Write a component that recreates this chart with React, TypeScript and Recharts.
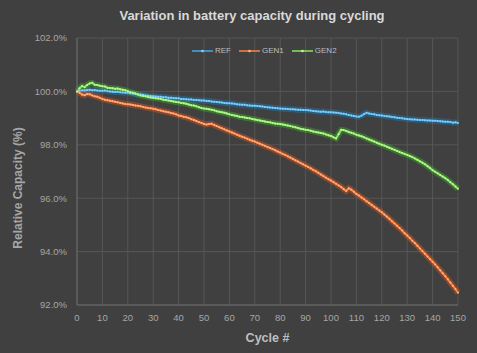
import React from "react";
import { LineChart, Line, XAxis, YAxis, CartesianGrid, Label } from "recharts";

// relative capacity (%) per cycle, 0..150
const REF = [
  100.0, 100.02, 100.04, 100.03, 100.05, 100.06, 100.04, 100.05, 100.03, 100.02,
  100.02, 100.03, 100.01, 100.0, 99.99, 99.98, 99.99, 99.97, 99.96, 99.95,
  99.95, 99.93, 99.92, 99.9, 99.89, 99.88, 99.87, 99.85, 99.84, 99.83,
  99.82, 99.81, 99.8, 99.8, 99.78, 99.78, 99.76, 99.76, 99.75, 99.74,
  99.74, 99.72, 99.72, 99.71, 99.7, 99.7, 99.68, 99.68, 99.67, 99.66,
  99.66, 99.64, 99.64, 99.62, 99.61, 99.6, 99.59, 99.58, 99.57, 99.56,
  99.56, 99.55, 99.54, 99.52, 99.51, 99.5, 99.5, 99.48, 99.47, 99.46,
  99.46, 99.45, 99.44, 99.43, 99.42, 99.41, 99.4, 99.39, 99.38, 99.37,
  99.36, 99.35, 99.35, 99.34, 99.33, 99.33, 99.32, 99.31, 99.31, 99.3,
  99.3, 99.29, 99.28, 99.27, 99.26, 99.25, 99.24, 99.25, 99.23, 99.22,
  99.22, 99.21, 99.2, 99.19, 99.17, 99.16, 99.14, 99.12, 99.1, 99.08,
  99.06, 99.05, 99.09, 99.15, 99.2, 99.17, 99.15, 99.14, 99.12, 99.11,
  99.1, 99.08, 99.07, 99.06, 99.04, 99.03, 99.01, 99.0, 98.99, 98.98,
  98.97, 98.96, 98.95, 98.95, 98.94, 98.93, 98.93, 98.92, 98.91, 98.91,
  98.9, 98.9, 98.89, 98.88, 98.87, 98.86, 98.86, 98.85, 98.83, 98.84,
  98.82,
];

const GEN1 = [
  100.0, 99.95, 99.88, 99.86, 99.9, 99.89, 99.85, 99.82, 99.8, 99.76,
  99.72, 99.69, 99.67, 99.65, 99.63, 99.61, 99.59, 99.57, 99.55, 99.53,
  99.52, 99.51, 99.49, 99.47, 99.46, 99.44, 99.42, 99.4, 99.38, 99.37,
  99.35, 99.33, 99.3, 99.28, 99.26, 99.24, 99.22, 99.19, 99.17, 99.14,
  99.1, 99.08, 99.05, 99.03, 99.0, 98.96, 98.93, 98.89, 98.85, 98.82,
  98.78, 98.76, 98.78, 98.79, 98.74, 98.7, 98.66, 98.62, 98.58, 98.54,
  98.5, 98.46, 98.42, 98.38, 98.34, 98.3, 98.27, 98.23, 98.19, 98.15,
  98.12, 98.08, 98.04, 98.0, 97.96, 97.92, 97.88, 97.84, 97.8, 97.75,
  97.71, 97.66, 97.62, 97.57, 97.52, 97.47, 97.42, 97.37, 97.32, 97.27,
  97.22, 97.17, 97.12, 97.06, 97.01, 96.95, 96.89, 96.83, 96.77, 96.71,
  96.66, 96.6, 96.54, 96.48, 96.42, 96.34, 96.27, 96.37, 96.32, 96.24,
  96.16, 96.1, 96.03, 95.96, 95.89, 95.82, 95.75, 95.68, 95.61, 95.54,
  95.47, 95.39, 95.31, 95.23, 95.14, 95.05, 94.97, 94.88, 94.79, 94.69,
  94.6, 94.51, 94.41, 94.32, 94.22, 94.12, 94.02, 93.92, 93.82, 93.72,
  93.62, 93.52, 93.41, 93.3, 93.19, 93.08, 92.96, 92.84, 92.72, 92.6,
  92.46,
];

const GEN2 = [
  100.0, 100.12, 100.2, 100.16, 100.24, 100.3, 100.32, 100.25, 100.24, 100.21,
  100.19, 100.18, 100.14, 100.13, 100.12, 100.1, 100.11, 100.08, 100.06, 100.04,
  100.01, 99.97, 99.95, 99.92, 99.88, 99.85, 99.83, 99.82, 99.79, 99.77,
  99.76, 99.74, 99.73, 99.72, 99.69, 99.68, 99.66, 99.64, 99.62, 99.6,
  99.59, 99.57, 99.56, 99.54, 99.51, 99.48, 99.47, 99.44, 99.41, 99.38,
  99.36, 99.35, 99.33, 99.31, 99.29, 99.26, 99.24, 99.22, 99.2, 99.17,
  99.14, 99.12, 99.1, 99.08, 99.05, 99.04, 99.02, 99.0, 98.99, 98.97,
  98.95, 98.93, 98.91, 98.89, 98.87, 98.85, 98.84, 98.82, 98.8, 98.79,
  98.78, 98.76, 98.74, 98.72, 98.7, 98.68, 98.66, 98.63, 98.6, 98.58,
  98.56, 98.55, 98.53, 98.5, 98.48, 98.46, 98.44, 98.42, 98.39, 98.36,
  98.33, 98.28, 98.24, 98.4, 98.56, 98.55, 98.52, 98.48, 98.45, 98.42,
  98.38, 98.35, 98.32, 98.28, 98.24, 98.2, 98.16, 98.12, 98.08, 98.04,
  98.0, 97.97, 97.93, 97.89, 97.85, 97.81, 97.77, 97.73, 97.69, 97.66,
  97.62, 97.58, 97.54, 97.49, 97.44, 97.38, 97.33, 97.27, 97.2, 97.13,
  97.05, 96.99, 96.93, 96.87, 96.81, 96.75, 96.68, 96.6, 96.52, 96.44,
  96.35,
];

const xTicks = [0, 10, 20, 30, 40, 50, 60, 70, 80, 90, 100, 110, 120, 130, 140, 150];
const yTicks = [92, 94, 96, 98, 100, 102];

const series = [
  { key: "REF", color: "#45aae6", dot: "#8ccff3", glow: "#1f7fc0" },
  { key: "GEN1", color: "#ff8242", dot: "#ffb084", glow: "#e0581a" },
  { key: "GEN2", color: "#8ae45e", dot: "#c0f5a4", glow: "#3fb820" },
];

const data = REF.map((v, i) => ({ cycle: i, REF: v, GEN1: GEN1[i], GEN2: GEN2[i] }));

const font = "'Liberation Sans', Arial, sans-serif";
const tickStyle = { fill: "#a6a6a6", fontSize: 9.5, fontFamily: font };

const YTitle = () => (
  <text
    x={18}
    y={188}
    transform="rotate(-90 18 188)"
    textAnchor="middle"
    dominantBaseline="central"
    fill="#a6a6a6"
    fontWeight="bold"
    fontSize={12}
    fontFamily={font}
  >
    Relative Capacity (%)
  </text>
);

export default function App() {
  return (
    <div style={{ position: "absolute", left: 0, top: 0, width: 477, height: 353, background: "#404040" }}>
      <div
        style={{
          position: "absolute",
          top: 8,
          left: 0,
          width: 504,
          textAlign: "center",
          fontFamily: font,
          fontWeight: "bold",
          fontSize: 13,
          color: "#d9d9d9",
        }}
      >
        Variation in battery capacity during cycling
      </div>
      <div
        style={{
          position: "absolute",
          top: 46,
          left: 192,
          display: "flex",
          gap: 8,
          fontFamily: font,
          fontSize: 8,
          color: "#bfbfbf",
          zIndex: 2,
        }}
      >
        {series.map((s) => (
          <span key={s.key} style={{ display: "flex", alignItems: "center" }}>
            <svg width={21} height={6}>
              <line x1={0} y1={3} x2={21} y2={3} stroke={s.color} strokeWidth={1.5} />
              <circle cx={10.5} cy={3} r={1.3} fill={s.dot} />
            </svg>
            <span style={{ marginLeft: 2 }}>{s.key}</span>
          </span>
        ))}
      </div>
      <LineChart width={477} height={353} data={data} margin={{ top: 38, right: 19, bottom: 0, left: 0 }}>
        <CartesianGrid stroke="#5c5c5c" strokeWidth={0.8} />
        <XAxis
          dataKey="cycle"
          type="number"
          domain={[0, 150]}
          ticks={xTicks}
          interval={0}
          height={48}
          tick={tickStyle}
          tickLine={false}
          tickSize={0}
          tickMargin={9}
          axisLine={{ stroke: "#6a6a6a" }}
        >
          <Label
            value="Cycle #"
            position="insideBottom"
            offset={11}
            style={{ fill: "#bfbfbf", fontWeight: "bold", fontSize: 12.5, fontFamily: font }}
          />
        </XAxis>
        <YAxis
          type="number"
          domain={[92, 102]}
          ticks={yTicks}
          interval={0}
          width={77}
          tick={tickStyle}
          tickLine={false}
          tickSize={0}
          tickMargin={10}
          tickFormatter={(v: number) => v.toFixed(1) + "%"}
          axisLine={{ stroke: "#6a6a6a" }}
        >
          <Label content={<YTitle />} />
        </YAxis>
        {series.map((s) => (
          <Line
            key={s.key + "-glow"}
            dataKey={s.key}
            stroke={s.glow}
            strokeOpacity={0.4}
            strokeWidth={6}
            dot={false}
            activeDot={false}
            legendType="none"
            isAnimationActive={false}
            type="linear"
          />
        ))}
        {series.map((s) => (
          <Line
            key={s.key}
            dataKey={s.key}
            stroke={s.color}
            strokeWidth={2}
            dot={{ r: 1, fill: s.dot, stroke: "none" }}
            activeDot={false}
            isAnimationActive={false}
            type="linear"
          />
        ))}
      </LineChart>
    </div>
  );
}
